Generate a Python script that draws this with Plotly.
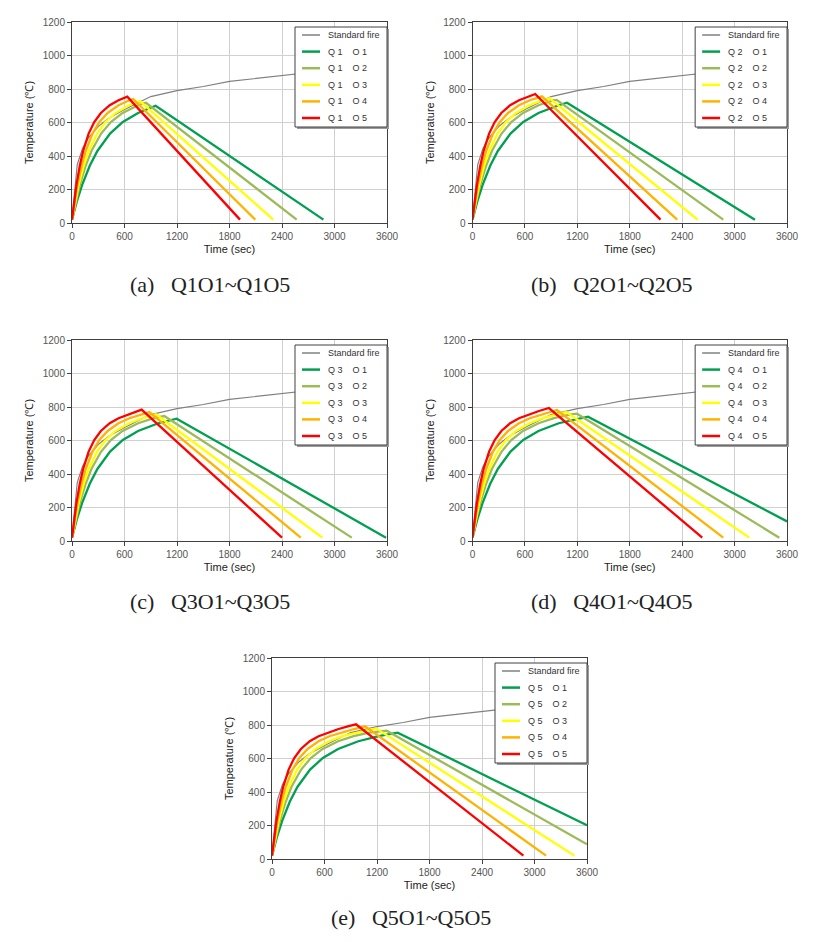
import plotly.graph_objects as go

# ---------------- data ----------------
std_time = [0, 60, 120, 180, 300, 420, 600, 900, 1200, 1500, 1800, 2400, 3000, 3600]
std_temp = [20, 349, 445, 502, 576, 626, 678, 755, 790, 815, 845, 880, 915, 945]

# heating branch, shared by the same opening factor (O1..O5)
heat_time_O1 = [0, 58, 116, 203, 290, 435, 581, 755, 987, 1219, 1452]
heat_time_O2 = [0, 44, 89, 156, 222, 333, 444, 578, 756, 933, 1111, 1333]
heat_time_O3 = [0, 38, 77, 134, 192, 287, 383, 498, 651, 804, 958, 1149]
heat_time_O4 = [0, 31, 63, 110, 157, 235, 313, 407, 532, 657, 783, 939, 1096]
heat_time_O5 = [0, 25, 51, 89, 127, 190, 254, 330, 431, 532, 634, 761, 887, 1014]
heat_temp = [20, 134, 228, 342, 430, 534, 603, 657, 703, 733, 754, 776, 795, 812]

# peak and end points per fuel load Q1..Q5 (columns O1..O5)
peak_time_Q1 = [956, 846, 777, 700, 632]
peak_time_Q2 = [1082, 967, 883, 795, 718]
peak_time_Q3 = [1196, 1055, 960, 884, 796]
peak_time_Q4 = [1322, 1196, 1074, 967, 875]
peak_time_Q5 = [1436, 1311, 1189, 1063, 960]

peak_temp_Q1 = [700, 718, 728, 740, 754]
peak_temp_Q2 = [718, 734, 744, 756, 770]
peak_temp_Q3 = [730, 746, 756, 770, 784]
peak_temp_Q4 = [742, 760, 770, 782, 794]
peak_temp_Q5 = [754, 766, 780, 792, 804]

end_time_Q1 = [2873, 2568, 2300, 2095, 1920]
end_time_Q2 = [3233, 2870, 2576, 2343, 2152]
end_time_Q3 = [3589, 3197, 2861, 2614, 2400]
end_time_Q4 = [3600, 3512, 3168, 2870, 2630]
end_time_Q5 = [3600, 3600, 3456, 3132, 2873]

end_temp_Q1 = [20, 20, 20, 20, 20]
end_temp_Q2 = [20, 20, 20, 20, 20]
end_temp_Q3 = [20, 20, 20, 20, 20]
end_temp_Q4 = [117, 20, 20, 20, 20]
end_temp_Q5 = [201, 88, 20, 20, 20]

x_ticks = [0, 600, 1200, 1800, 2400, 3000, 3600]
y_ticks = [0, 200, 400, 600, 800, 1000, 1200]
captions = ["(a)\u00a0\u00a0\u00a0Q1O1~Q1O5", "(b)\u00a0\u00a0\u00a0Q2O1~Q2O5",
            "(c)\u00a0\u00a0\u00a0Q3O1~Q3O5", "(d)\u00a0\u00a0\u00a0Q4O1~Q4O5",
            "(e)\u00a0\u00a0\u00a0Q5O1~Q5O5"]
series_colors = ["#00A050", "#9BBB59", "#FFFF00", "#FFB300", "#FF0000"]
std_color = "#808080"

heat_times = [heat_time_O1, heat_time_O2, heat_time_O3, heat_time_O4, heat_time_O5]
peak_times = [peak_time_Q1, peak_time_Q2, peak_time_Q3, peak_time_Q4, peak_time_Q5]
peak_temps = [peak_temp_Q1, peak_temp_Q2, peak_temp_Q3, peak_temp_Q4, peak_temp_Q5]
end_times = [end_time_Q1, end_time_Q2, end_time_Q3, end_time_Q4, end_time_Q5]
end_temps = [end_temp_Q1, end_temp_Q2, end_temp_Q3, end_temp_Q4, end_temp_Q5]

# ---------------- layout geometry (page pixels; page body has an 8px margin) ----------------
OFF = 8
W, H = 813 - 2 * OFF, 942 - 2 * OFF
panels_px = [(72, 387, 22, 223), (472.5, 787, 22, 223), (72, 387, 340, 541),
             (472.5, 787, 340, 541), (272, 587, 658, 859)]
caption_px = [(210, 284), (612, 284), (210, 601), (612, 601), (411, 917)]


def fx(px):
    return (px - OFF) / W


def fy(py):
    return 1 - (py - OFF) / H


fig = go.Figure()
shapes = []
annotations = []
tick_font = dict(family="Liberation Sans, Arial, sans-serif", size=10, color="#555555")
title_font = dict(family="Liberation Sans, Arial, sans-serif", size=11, color="#222222")

for q in range(5):
    n = q + 1
    xa = "x" if n == 1 else f"x{n}"
    ya = "y" if n == 1 else f"y{n}"
    x0, x1, y0, y1 = panels_px[q]
    fig.add_trace(go.Scatter(x=std_time, y=std_temp, xaxis=xa, yaxis=ya, mode="lines",
                             line=dict(color=std_color, width=1.2), showlegend=False,
                             name="Standard fire"))
    for o in range(5):
        ht = heat_times[o]
        pt = peak_times[q][o]
        xs = [t for t in ht if t < pt]
        ys = heat_temp[:len(xs)]
        xs = xs + [pt, end_times[q][o]]
        ys = list(ys) + [peak_temps[q][o], end_temps[q][o]]
        fig.add_trace(go.Scatter(x=xs, y=ys, xaxis=xa, yaxis=ya, mode="lines",
                                 line=dict(color=series_colors[o], width=2.3),
                                 showlegend=False, name=f"Q{n} O{o+1}"))
    axis_common = dict(showgrid=True, gridcolor="#D0D0D0", gridwidth=1, zeroline=False,
                       showline=True, linecolor="#404040", linewidth=1, mirror=True,
                       ticks="outside", ticklen=4, tickcolor="#404040", tickfont=tick_font,
                       automargin=False)
    fig.update_layout(**{
        ("xaxis" if n == 1 else f"xaxis{n}"): dict(
            domain=[fx(x0), fx(x1)], anchor=ya, range=[0, 3600], tickvals=x_ticks,
            title=dict(text="Time (sec)", font=title_font, standoff=4), **axis_common),
        ("yaxis" if n == 1 else f"yaxis{n}"): dict(
            domain=[fy(y1), fy(y0)], anchor=xa, range=[0, 1200], tickvals=y_ticks,
            title=dict(text="Temperature (\u2103)", font=title_font, standoff=6), **axis_common),
    })

    # manual legend box
    xr = f"{xa} domain"
    yr = f"{ya} domain"
    pw, ph = x1 - x0, y1 - y0
    lx0 = (295 - 72) / 315
    lx1 = 1.0
    ly_top = (223 - 27) / 201
    ly_bot = (223 - 127) / 201
    shapes.append(dict(type="rect", xref=xr, yref=yr, x0=lx0 + 2 / pw, x1=lx1 + 2 / pw,
                       y0=ly_bot - 2 / ph, y1=ly_top - 2 / ph, line=dict(width=0),
                       fillcolor="#9a9a9a", layer="above"))
    shapes.append(dict(type="rect", xref=xr, yref=yr, x0=lx0, x1=lx1, y0=ly_bot, y1=ly_top,
                       line=dict(color="#404040", width=1), fillcolor="white", layer="above"))
    names = ["Standard fire"] + [f"Q\u00a0{n}\u00a0\u00a0\u00a0\u00a0O\u00a0{o+1}" for o in range(5)]
    colors = [std_color] + series_colors
    widths = [1.5] + [2.5] * 5
    for k in range(6):
        yk = (223 - (35 + 16.6 * k)) / 201
        shapes.append(dict(type="line", xref=xr, yref=yr, x0=(302 - 72) / 315, x1=(320 - 72) / 315,
                           y0=yk, y1=yk, line=dict(color=colors[k], width=widths[k]), layer="above"))
        annotations.append(dict(xref=xr, yref=yr, x=(326 - 72) / 315, y=yk, text=names[k],
                                showarrow=False, xanchor="left", yanchor="middle",
                                font=dict(family="Liberation Sans, Arial, sans-serif", size=9,
                                          color="#333333")))
    cx, cy = caption_px[q]
    annotations.append(dict(xref="paper", yref="paper", x=fx(cx), y=fy(cy), text=captions[q],
                            showarrow=False, xanchor="center", yanchor="middle",
                            font=dict(family="Liberation Serif, DejaVu Serif, serif", size=22,
                                      color="#222222")))

fig.update_layout(width=W, height=H, margin=dict(l=0, r=0, t=0, b=0),
                  paper_bgcolor="white", plot_bgcolor="white", showlegend=False,
                  shapes=shapes, annotations=annotations)
fig.write_html("out.html")
